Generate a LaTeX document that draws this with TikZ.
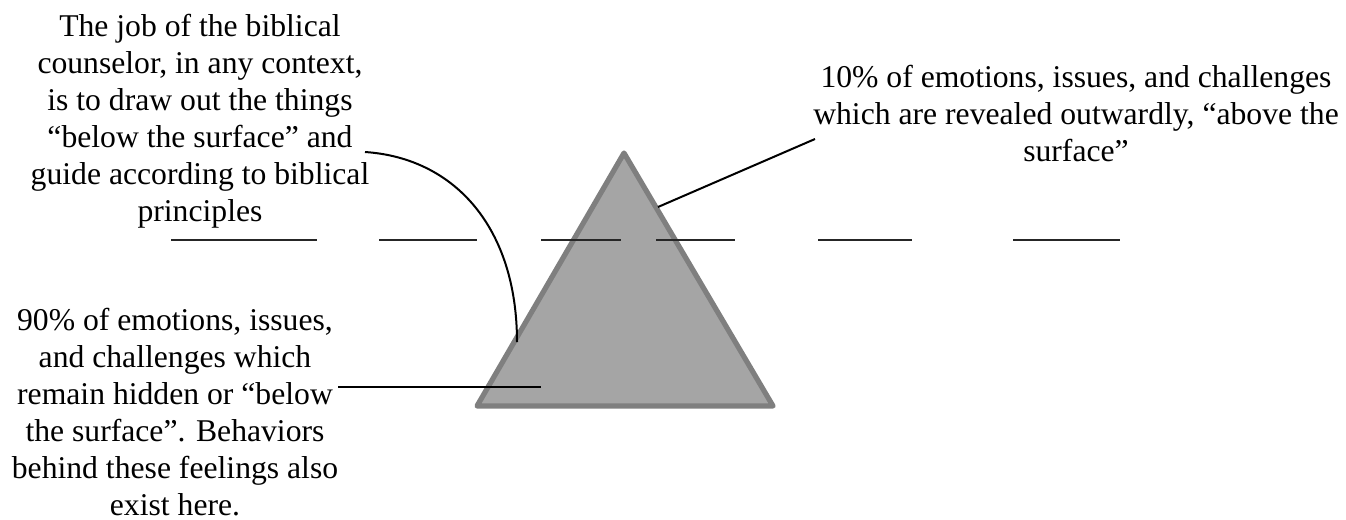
\documentclass[tikz,border=0pt]{standalone}
\usepackage{fontspec}
\setmainfont{Liberation Serif}
\definecolor{bergfill}{HTML}{A5A5A5}
\definecolor{bergline}{HTML}{7F7F7F}
\begin{document}
\begin{tikzpicture}[x=0.75pt,y=-0.75pt,
  lbl/.style={anchor=base,inner sep=0pt,font=\fontsize{23.75}{27.75}\selectfont},
  conn/.style={draw=black,line width=1.5pt},
  surf/.style={draw=black!85,line width=1.7pt},
  berg/.style={fill=bergfill,draw=bergline,line width=3.9pt,line join=round}]
\useasboundingbox (0,0) rectangle (1346,519);
% iceberg
\coordinate (apex) at (624,153);
\coordinate (bl) at (477,406);
\coordinate (br) at (773,406);
\draw[berg] (apex) -- (br) -- (bl) -- cycle;
% water surface
\foreach \a/\b in {171/317,379/477,541/621,656/735,818/912,1013/1120}
  \draw[surf] (\a,240) -- (\b,240);
% texts
\node[lbl] (job) at (200,36) {\begin{tabular}[t]{@{}c@{}}The job of the biblical\\counselor, in any context,\\is to draw out the things\\“below the surface” and\\guide according to biblical\\principles\end{tabular}};
\node[lbl] (above) at (1076,87) {\begin{tabular}[t]{@{}c@{}}10\% of emotions, issues, and challenges\\which are revealed outwardly, “above the\\surface”\end{tabular}};
\node[lbl] (below) at (175,330) {\begin{tabular}[t]{@{}c@{}}90\% of emotions, issues,\\and challenges which\\remain hidden or “below\\the surface”. Behaviors\\behind these feelings also\\exist here.\end{tabular}};
% connectors
\coordinate (jobend) at (365,152);
\coordinate (jobtip) at (517,342);
\draw[conn] (jobend) .. controls (455,158) and (517,228) .. (jobtip);
\coordinate (aboveend) at (815,139);
\coordinate (abovetip) at (658,207);
\draw[conn] (aboveend) -- (abovetip);
\coordinate (belowend) at (338,387);
\coordinate (belowtip) at (541,387);
\draw[conn] (belowend) -- (belowtip);
\end{tikzpicture}
\end{document}
